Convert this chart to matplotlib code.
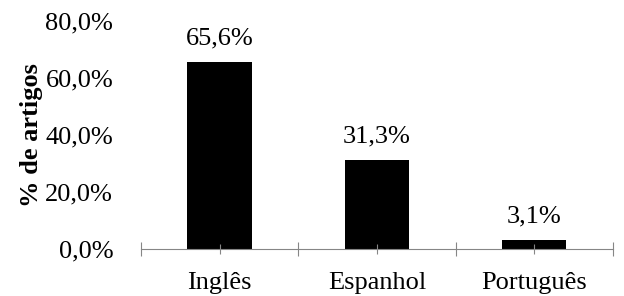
import matplotlib.pyplot as plt

# Idiomas dos artigos
languages = ["Inglês", "Espanhol", "Português"]
percentages = [65.6, 31.3, 3.1]
y_ticks = [0, 20, 40, 60, 80]

plt.rcParams["font.family"] = ["Liberation Serif", "DejaVu Serif"]

fig = plt.figure(figsize=(6.24, 2.96), dpi=100)
ax = fig.add_axes([0.226, 0.159, 0.756, 0.770])

positions = list(range(len(languages)))
bars = ax.bar(positions, percentages, width=0.41, color="black")

labels = [f"{v:.1f}%".replace(".", ",") for v in percentages]
ax.bar_label(bars, labels=labels, padding=9, fontsize=19)

ax.set_xlim(-0.5, len(languages) - 0.5)
ax.set_ylim(0, 80)

# category boundaries as major ticks, centres as minor ticks with labels
ax.set_xticks([p - 0.5 for p in positions] + [len(languages) - 0.5])
ax.set_xticklabels([])
ax.set_xticks(positions, minor=True)
ax.set_xticklabels(languages, minor=True, fontsize=19)
ax.tick_params(axis="x", which="major", direction="inout", length=10,
               color="#868686", width=0.8)
ax.tick_params(axis="x", which="minor", direction="inout", length=7,
               color="#868686", width=0.8, pad=13)

ax.set_yticks(y_ticks)
ax.set_yticklabels([f"{t:.1f}%".replace(".", ",") for t in y_ticks],
                   fontsize=19)
ax.tick_params(axis="y", length=0, pad=20)

ax.set_ylabel("% de artigos", fontsize=19, fontweight="bold", labelpad=2)

for side in ["top", "right", "left"]:
    ax.spines[side].set_visible(False)
ax.spines["bottom"].set_color("#868686")
ax.spines["bottom"].set_linewidth(0.8)

fig.savefig("out.png", dpi=100)
